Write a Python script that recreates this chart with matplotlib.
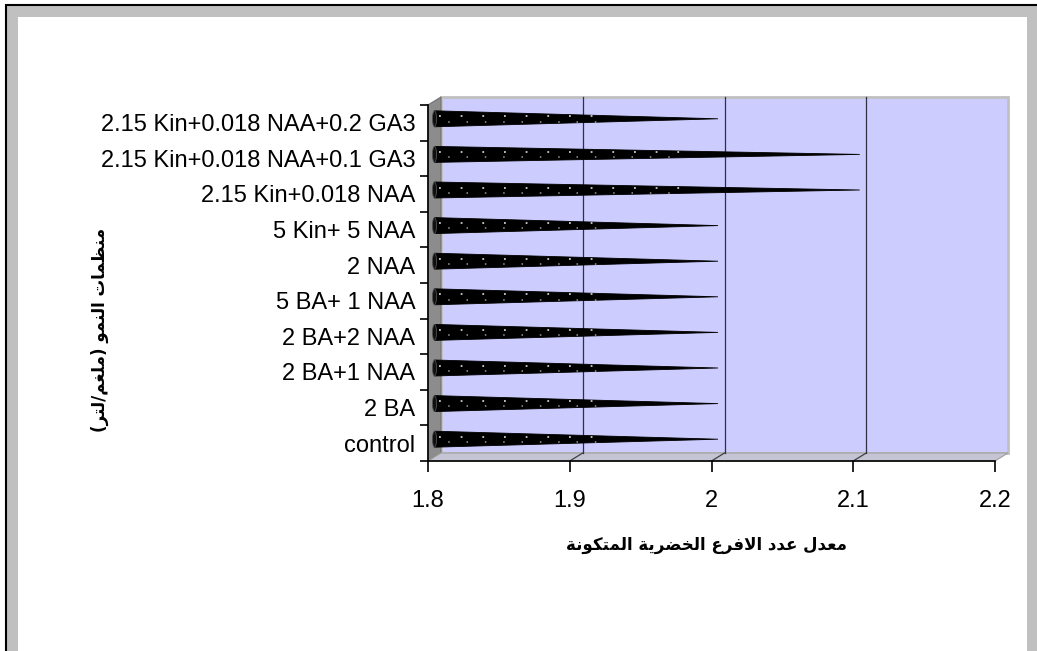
import matplotlib
matplotlib.use("Agg")
import matplotlib.pyplot as plt
from matplotlib.patches import Rectangle, Polygon, Ellipse

# data (bottom to top, as drawn)
categories = ["control", "2 BA", "2 BA+1 NAA", "2 BA+2 NAA", "5 BA+ 1 NAA",
              "2 NAA", "5 Kin+ 5 NAA", "2.15 Kin+0.018 NAA",
              "2.15 Kin+0.018 NAA+0.1 GA3", "2.15 Kin+0.018 NAA+0.2 GA3"]
values = [2.0, 2.0, 2.0, 2.0, 2.0, 2.0, 2.0, 2.1, 2.1, 2.0]
xticks = [1.8, 1.9, 2.0, 2.1, 2.2]
xlabel = "معدل عدد الافرع الخضرية المتكونة"
ylabel = "منظمات النمو (ملغم/لتر)"

# matplotlib has no arabic shaping, so pick the presentation forms by hand
AR_FORMS = {
    'ا': (0xFE8D, 0xFE8E, None, None),
    'ت': (0xFE95, 0xFE96, 0xFE97, 0xFE98),
    'ة': (0xFE93, 0xFE94, None, None),
    'خ': (0xFEA5, 0xFEA6, 0xFEA7, 0xFEA8),
    'د': (0xFEA9, 0xFEAA, None, None),
    'ر': (0xFEAD, 0xFEAE, None, None),
    'ض': (0xFEBD, 0xFEBE, 0xFEBF, 0xFEC0),
    'ظ': (0xFEC5, 0xFEC6, 0xFEC7, 0xFEC8),
    'ع': (0xFEC9, 0xFECA, 0xFECB, 0xFECC),
    'غ': (0xFECD, 0xFECE, 0xFECF, 0xFED0),
    'ف': (0xFED1, 0xFED2, 0xFED3, 0xFED4),
    'ك': (0xFED9, 0xFEDA, 0xFEDB, 0xFEDC),
    'ل': (0xFEDD, 0xFEDE, 0xFEDF, 0xFEE0),
    'م': (0xFEE1, 0xFEE2, 0xFEE3, 0xFEE4),
    'ن': (0xFEE5, 0xFEE6, 0xFEE7, 0xFEE8),
    'و': (0xFEED, 0xFEEE, None, None),
    'ي': (0xFEF1, 0xFEF2, 0xFEF3, 0xFEF4),
}


def ar(text):
    out = []
    i = 0
    prev_joins = False
    while i < len(text):
        c = text[i]
        if c not in AR_FORMS:
            out.append(c)
            prev_joins = False
            i += 1
            continue
        if c == 'ل' and i + 1 < len(text) and text[i + 1] == 'ا':
            out.append(chr(0xFEFC if prev_joins else 0xFEFB))
            prev_joins = False
            i += 2
            continue
        forms = AR_FORMS[c]
        nxt = text[i + 1] if i + 1 < len(text) else ''
        joins_next = forms[2] is not None and nxt in AR_FORMS
        if prev_joins and joins_next:
            f = forms[3]
        elif prev_joins:
            f = forms[1]
        elif joins_next:
            f = forms[2]
        else:
            f = forms[0]
        out.append(chr(f))
        prev_joins = joins_next
        i += 1
    vis = ''.join(reversed(out))
    return vis.translate(str.maketrans('()', ')('))


W, H = 1037, 651
fig = plt.figure(figsize=(W / 100, H / 100), dpi=100, facecolor="white")

# outer frame (gray band with black edge, cut off at right/bottom)
fig.patches.append(Rectangle((6 / W, -1), 2, 1 - 5 / H + 1, transform=fig.transFigure,
                             facecolor="#C0C0C0", edgecolor="black", lw=1.5, zorder=-3))
fig.patches.append(Rectangle((18 / W, -1), (1027 - 18) / W, 1 - 17 / H + 1,
                             transform=fig.transFigure, facecolor="white",
                             edgecolor="none", zorder=-2))

# front plane of the 3d plot
left, right, bottom, top = 428, 995, 461, 105
ax = fig.add_axes([left / W, 1 - bottom / H, (right - left) / W, (bottom - top) / H])
ax.patch.set_visible(False)
ax.set_xlim(1.8, 2.2)
ax.set_ylim(-0.5, len(categories) - 0.5)

# depth offset (13 px right, 8 px up) in data units
ddx = 0.4 * 13 / (right - left)
ddy = len(categories) * 8 / (bottom - top)
x0, x1 = 1.8, 2.2
y0, y1 = -0.5, len(categories) - 0.5

ax.add_patch(Rectangle((x0 + ddx, y0 + ddy), x1 - x0, y1 - y0, facecolor="#CCCCFF",
                       edgecolor="#C0C0C0", lw=2, clip_on=False, zorder=0.5))
ax.add_patch(Polygon([(x0, y0), (x0 + ddx, y0 + ddy), (x0 + ddx, y1 + ddy), (x0, y1)],
                     closed=True, facecolor="#8C8C8C", edgecolor="#707070", lw=0.8,
                     clip_on=False, zorder=0.6))
ax.add_patch(Polygon([(x0, y0), (x1, y0), (x1 + ddx, y0 + ddy), (x0 + ddx, y0 + ddy)],
                     closed=True, facecolor="#C4C4D4", edgecolor="#A0A0A0", lw=0.8,
                     clip_on=False, zorder=0.6))

for v in xticks[1:-1]:
    ax.plot([v + ddx, v + ddx], [y0 + ddy, y1 + ddy], color="#303040", lw=0.9,
            clip_on=False, zorder=1)
    ax.plot([v, v + ddx], [y0, y0 + ddy], color="#404040", lw=0.9,
            clip_on=False, zorder=1)

# cones sit half way into the depth
ox, oy = ddx / 2, ddy / 2
h = 8 * len(categories) / (bottom - top)
bw = 4 * 0.4 / (right - left)
for i, v in enumerate(values):
    yc = i + oy
    ax.add_patch(Polygon([(x0 + ox, yc + h), (v + ox, yc), (x0 + ox, yc - h)], closed=True,
                         facecolor="black", edgecolor="black", lw=0.6,
                         clip_on=False, zorder=2))
    ax.add_patch(Ellipse((x0 + ox, yc), bw, 2 * h, facecolor="#101010",
                         edgecolor="#505050", lw=0.6, clip_on=False, zorder=2.1))
    xe = x0 + ox + 0.6 * (v - x0)
    ax.plot([x0 + ox + bw, xe], [yc + 0.07, yc + 0.07], color="white", lw=1.3,
            ls=(0, (1, 11)), alpha=0.8, clip_on=False, zorder=2.2)
    ax.plot([x0 + ox + bw, xe * 0.98 + x0 * 0.02], [yc - 0.08, yc - 0.08], color="white",
            lw=1.1, ls=(6, (1, 11)), alpha=0.6, clip_on=False, zorder=2.2)

for s in ["top", "right"]:
    ax.spines[s].set_visible(False)
for s in ["left", "bottom"]:
    ax.spines[s].set_color("black")
    ax.spines[s].set_linewidth(1.2)
    ax.spines[s].set_zorder(3)

ax.set_xticks(xticks)
ax.set_xticklabels([f"{t:g}" for t in xticks], fontsize=17, family="Liberation Sans")
ax.tick_params(axis="x", direction="out", length=8, width=1.2, pad=13, color="black")
ax.set_yticks(range(len(categories)))
ax.set_yticklabels(categories, fontsize=17, family="Liberation Sans")
ax.set_yticks([k - 0.5 for k in range(len(categories) + 1)], minor=True)
ax.tick_params(axis="y", which="major", length=0, pad=9)
ax.tick_params(axis="y", which="minor", direction="out", length=6, width=1.2, color="black")

fig.text(707 / W, 1 - 545 / H, ar(xlabel), ha="center", va="center", fontsize=12,
         fontweight="bold", family="DejaVu Sans")
fig.text(100 / W, 1 - 330 / H, ar(ylabel), ha="center", va="center", rotation=90,
         fontsize=12, fontweight="bold", family="DejaVu Sans")

fig.savefig("out.png", dpi=100, facecolor="white")
